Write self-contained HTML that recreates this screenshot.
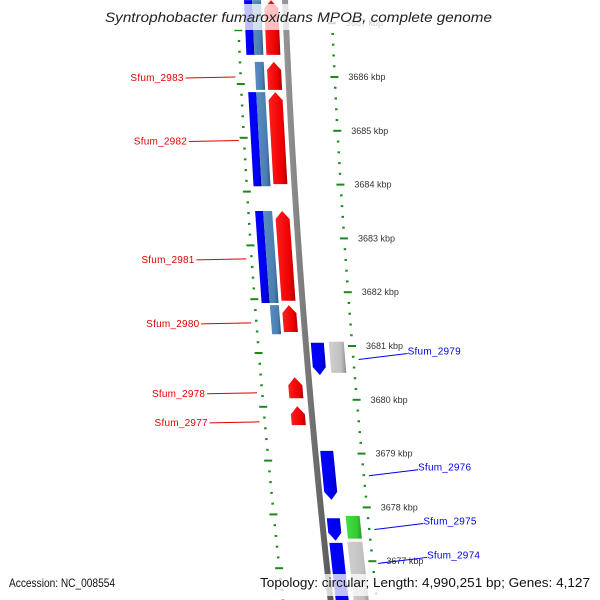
<!DOCTYPE html>
<html><head><meta charset="utf-8"><style>
html,body{margin:0;padding:0;background:#fff;}
svg{display:block;font-family:"Liberation Sans","DejaVu Sans",sans-serif;}
</style></head><body>
<svg id="map" width="600" height="600" viewBox="0 0 600 600">
<defs>
<linearGradient id="gBlue" x1="0" x2="1"><stop offset="0" stop-color="#0000ff"/><stop offset="0.7" stop-color="#0000ee"/><stop offset="1" stop-color="#0000b0"/></linearGradient>
<linearGradient id="gSteel" x1="0" x2="1"><stop offset="0" stop-color="#5a8cc0"/><stop offset="0.7" stop-color="#4a7fb3"/><stop offset="1" stop-color="#2f5b86"/></linearGradient>
<linearGradient id="gRed" x1="0" x2="1"><stop offset="0" stop-color="#ff2020"/><stop offset="0.7" stop-color="#ee0000"/><stop offset="1" stop-color="#b00000"/></linearGradient>
<linearGradient id="gGray" x1="0" x2="1"><stop offset="0" stop-color="#d0d0d0"/><stop offset="0.7" stop-color="#c0c0c0"/><stop offset="1" stop-color="#8c8c8c"/></linearGradient>
<linearGradient id="gGreen" x1="0" x2="1"><stop offset="0" stop-color="#44dd44"/><stop offset="0.7" stop-color="#33cc33"/><stop offset="1" stop-color="#229922"/></linearGradient>
<linearGradient id="gBack" x1="0" x2="1"><stop offset="0" stop-color="#999"/><stop offset="0.5" stop-color="#777"/><stop offset="1" stop-color="#555"/></linearGradient>
</defs>
<g id="layer"></g>
</svg>
<script>
// axis tick values (kbp)
const kbpTicks = [3687,3686,3685,3684,3683,3682,3681,3680,3679,3678,3677,3676];
// gene features: start/end kbp, track, colour, direction
const geneStart = [3687.43,3687.43,3687.43,3686.28,3686.28,3685.72,3685.72,3685.72,3683.51,3683.51,3683.51,3681.76,3681.76,3680.42,3679.88,3681.06,3681.08,3679.05,3677.80,3677.84,3677.34,3677.36];
const geneEnd   = [3686.41,3686.41,3686.41,3685.76,3685.76,3683.97,3683.97,3684.01,3681.80,3681.80,3681.84,3681.22,3681.26,3680.03,3679.53,3680.46,3680.50,3678.14,3677.38,3677.42,3676.0,3676.0];
const geneTrack = ['b','s','r','s','r','b','s','r','b','s','r','s','r','r','r','B','G','B','B','g','B','G'];
const geneDir   = ['n','n','u','n','u','n','n','u','n','n','u','n','u','u','u','d','n','d','d','n','n','n'];
// gene labels
const labelNames = ['Sfum_2983','Sfum_2982','Sfum_2981','Sfum_2980','Sfum_2978','Sfum_2977','Sfum_2979','Sfum_2976','Sfum_2975','Sfum_2974'];
const labelKbp   = [3686.0,3684.82,3682.62,3681.43,3680.13,3679.59,3680.86,3678.70,3677.70,3677.07];
const labelSide  = ['L','L','L','L','L','L','R','R','R','R'];

const NS='http://www.w3.org/2000/svg';
const layer=document.getElementById('layer');
function yOf(k){return 77+(3686-k)*53.8;}
function bx(y){return 285+0.04*y+0.00006*y*y;}
function mk(tag,attrs,parent){const e=document.createElementNS(NS,tag);for(const a in attrs)e.setAttribute(a,attrs[a]);(parent||layer).appendChild(e);return e;}

// backbone
{
  const pts=[];for(let y=-5;y<=605;y+=10)pts.push([bx(y),y]);
  const left=pts.map(p=>(p[0]-3)+','+p[1]);const right=pts.slice().reverse().map(p=>(p[0]+3)+','+p[1]);
  const bb=mk('polygon',{points:left.concat(right).join(' '),fill:'url(#gBack)'});
  
  
}

// ticks
const tickG=mk('g',{});


for(let i=0;i<kbpTicks.length-1;i++){
  for(let j=0;j<5;j++){
    const k=kbpTicks[i]-j*0.2;
    const y=yOf(k); const major=j===0;
    const xo=bx(y)+46;
    const t=mk('line',{x1:xo-(major?4:1),x2:xo+(major?4:1.5),y1:y,y2:y,stroke:'#1a8a1a','stroke-width':2},tickG);
    
    
    const yi=y+7; const xi=bx(yi)-48;
    const ti=mk('line',{x1:xi-(major?4:1),x2:xi+(major?4:1.5),y1:yi,y2:yi,stroke:'#1a8a1a','stroke-width':2},tickG);
    
    
    if(major){
      const tx=mk('text',{x:xo+14,y:y+3,'font-size':9,fill:'#333'},tickG);
      tx.textContent=kbpTicks[i]+' kbp';
      
      
    }
  }
}

// genes
const tracks={b:[-41,-33,'url(#gBlue)'],s:[-33,-24,'url(#gSteel)'],r:[-21,-7,'url(#gRed)'],B:[5,18,'url(#gBlue)'],G:[23,38,'url(#gGray)'],g:[24,38,'url(#gGreen)']};
for(let i=0;i<geneStart.length;i++){
  const tr=tracks[geneTrack[i]];
  const y0=yOf(geneStart[i]), y1=yOf(geneEnd[i]); const a=tr[0],b=tr[1],m=(a+b)/2;
  const P=(o,y)=>(bx(y)+o).toFixed(1)+','+y.toFixed(1);
  let pts;
  if(geneDir[i]==='u') pts=[P(m,y0),P(b,y0+8),P(b,y1),P(a,y1),P(a,y0+8)];
  else if(geneDir[i]==='d') pts=[P(a,y0),P(b,y0),P(b,y1-8),P(m,y1),P(a,y1-8)];
  else pts=[P(a,y0),P(b,y0),P(b,y1),P(a,y1)];
  const g=mk('polygon',{points:pts.join(' '),fill:tr[2]});
  
  
}

// labels
for(let i=0;i<labelNames.length;i++){
  const y=yOf(labelKbp[i]);
  if(labelSide[i]==='L'){
    const x2=bx(y)-53;
    const ln=mk('line',{x1:x2-50,y1:y+1,x2:x2,y2:y,stroke:'#e00000','stroke-width':1});
    
    
    const t=mk('text',{x:x2-52,y:y+4,'font-size':10,fill:'#e00000','text-anchor':'end',textLength:53});
    t.textContent=labelNames[i];
    
    
  } else {
    const x1=bx(y)+52;
    const ln=mk('line',{x1:x1,y1:y+6,x2:x1+49,y2:y,stroke:'#0000ee','stroke-width':1});
    
    
    const t=mk('text',{x:x1+49,y:y+1,'font-size':10,fill:'#0000ee',textLength:53});
    t.textContent=labelNames[i];
    
    
  }
}

// overlays + title / footer
const ov1=mk('rect',{x:100,y:4,width:400,height:26,fill:'rgba(255,255,255,0.75)'});


const ov2=mk('rect',{x:256,y:574,width:338,height:22,fill:'rgba(255,255,255,0.75)'});


const title=mk('text',{x:105,y:22,'font-size':14,'font-style':'italic',fill:'#222',textLength:387,lengthAdjust:'spacingAndGlyphs'});
title.textContent='Syntrophobacter fumaroxidans MPOB, complete genome';


const acc=mk('text',{x:9,y:587,'font-size':12,fill:'#111',textLength:106,lengthAdjust:'spacingAndGlyphs'});
acc.textContent='Accession: NC_008554';


const topo=mk('text',{x:260,y:587,'font-size':12.5,fill:'#111',textLength:330,lengthAdjust:'spacingAndGlyphs'});
topo.textContent='Topology: circular; Length: 4,990,251 bp; Genes: 4,127';


</script>
</body></html>
